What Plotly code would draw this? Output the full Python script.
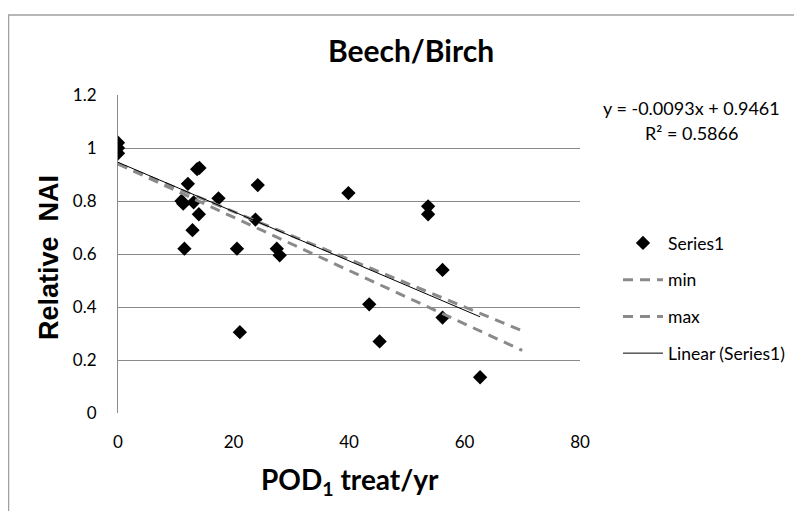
import plotly.graph_objects as go

# ---- data ----
pod1 = [0, 0, 0, 13.7, 14.1, 12.1, 24.2, 11.0, 11.3, 13.1, 17.4, 14.0, 12.9, 11.5,
        23.8, 20.6, 27.5, 28.0, 21.1, 39.9, 53.7, 53.7, 56.2, 56.2, 43.5, 45.3, 62.7]
rel_nai = [1.02, 1.00, 0.98, 0.92, 0.925, 0.865, 0.86, 0.80, 0.79, 0.795, 0.81, 0.75, 0.69, 0.62,
           0.73, 0.62, 0.62, 0.595, 0.305, 0.83, 0.78, 0.75, 0.54, 0.36, 0.41, 0.27, 0.135]

min_x = [0, 70]
min_y = [0.94, 0.31]
max_x = [0, 70]
max_y = [0.94, 0.236]

slope = -0.0093
intercept = 0.9461
r2 = 0.5866

x_ticks = [0, 20, 40, 60, 80]
y_ticks = [0, 0.2, 0.4, 0.6, 0.8, 1, 1.2]

trend_x = [min(pod1), max(pod1)]
trend_y = [slope * v + intercept for v in trend_x]

FONT = "Lato"
GRAY = "#8a8a8a"

fig = go.Figure()
fig.add_trace(go.Scatter(x=pod1, y=rel_nai, mode="markers", name="Series1",
                         legendgroup="a",
                         marker=dict(symbol="diamond", size=11, color="black")))
fig.add_trace(go.Scatter(x=min_x, y=min_y, mode="lines", name="min", legendgroup="b",
                         line=dict(color=GRAY, width=3, dash="10px,7px")))
fig.add_trace(go.Scatter(x=max_x, y=max_y, mode="lines", name="max", legendgroup="c",
                         line=dict(color=GRAY, width=3, dash="10px,7px")))
fig.add_trace(go.Scatter(x=trend_x, y=trend_y, mode="lines", name="Linear (Series1)",
                         legendgroup="d",
                         line=dict(color="black", width=1)))

# page has an 8px body margin; figure is sized to fit the window
OFF = 8
W, H = 802 - OFF, 511 - OFF
L, T = 118 - OFF, 95 - OFF
R = W - (580 - OFF)
B = H - (413 - OFF)
pw, ph = W - L - R, H - T - B

def px_x(p):  # page pixel -> paper
    return (p - OFF - L) / pw

def px_y(p):
    return (H - B - (p - OFF)) / ph

fig.update_layout(
    width=W, height=H,
    margin=dict(l=L, r=R, t=T, b=B),
    paper_bgcolor="white", plot_bgcolor="white",
    font=dict(family=FONT, size=16.5, color="black"),
    showlegend=True,
    legend=dict(x=px_x(618), y=px_y(225), xanchor="left", yanchor="top",
                font=dict(family=FONT, size=17.5, color="black"),
                tracegroupgap=11, bgcolor="rgba(0,0,0,0)", itemwidth=40),
    title=dict(text="<b>Beech/Birch</b>", x=(411 - OFF) / W, xanchor="center",
               y=1 - (51 - OFF) / H, yanchor="middle",
               font=dict(family=FONT, size=30, color="black")),
    xaxis=dict(range=[0, 80], tickvals=x_ticks, showgrid=False, zeroline=False,
               showline=False, ticks="", ticklabelstandoff=17,
               tickfont=dict(family=FONT, size=17, color="black"), fixedrange=True),
    yaxis=dict(range=[0, 1.2], tickvals=y_ticks, showgrid=True, gridcolor=GRAY,
               gridwidth=1, zeroline=False, showline=True, linecolor=GRAY,
               linewidth=1, ticks="", ticklabelstandoff=17,
               tickfont=dict(family=FONT, size=17, color="black"), fixedrange=True),
    shapes=[dict(type="rect", xref="paper", yref="paper",
                 x0=px_x(8.5), x1=px_x(830), y0=px_y(540), y1=px_y(15),
                 line=dict(color="#a0a0a0", width=1.5), fillcolor="rgba(0,0,0,0)",
                 layer="below")],
    annotations=[
        dict(text="<b>Relative  NAI</b>", xref="paper", yref="paper",
             x=px_x(49), y=px_y(258), textangle=-90, showarrow=False,
             xanchor="center", yanchor="middle",
             font=dict(family="Liberation Sans", size=27, color="black")),
        dict(text="<b>POD<sub>1</sub> treat/yr</b>", xref="paper", yref="paper",
             x=px_x(350), y=px_y(481), showarrow=False,
             xanchor="center", yanchor="middle",
             font=dict(family=FONT, size=28, color="black")),
        dict(text=f"y = {slope:.4f}x + {intercept:.4f}", xref="paper", yref="paper",
             x=px_x(691), y=px_y(108), showarrow=False, xanchor="center", yanchor="middle",
             font=dict(family=FONT, size=18, color="black")),
        dict(text=f"R² = {r2:.4f}", xref="paper", yref="paper",
             x=px_x(691), y=px_y(133), showarrow=False, xanchor="center", yanchor="middle",
             font=dict(family=FONT, size=18, color="black")),
    ],
)

fig.write_html("out.html")
